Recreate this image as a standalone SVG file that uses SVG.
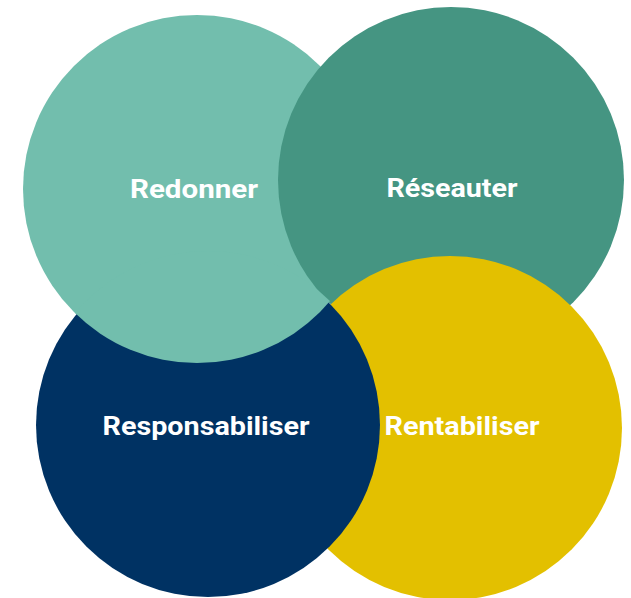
<svg xmlns="http://www.w3.org/2000/svg" width="631" height="598" viewBox="0 0 631 598">
  <style>
    .lbl { font-family: Roboto, "Liberation Sans", sans-serif; font-weight: 700; font-size: 26px; fill: #ffffff; text-anchor: middle; }
  </style>
  <defs>
    <clipPath id="navyClip">
      <circle cx="208" cy="425" r="174"/>
    </clipPath>
  </defs>
  <rect width="631" height="598" fill="#ffffff"/>
  <g id="node-redonner">
    <circle cx="197" cy="189" r="174" fill="#72BEAD"/>
  </g>
  <g id="node-reseauter">
    <circle cx="451" cy="180" r="173" fill="#459582"/>
  </g>
  <g id="node-rentabiliser">
    <circle cx="450" cy="428" r="172" fill="#E3C000"/>
  </g>
  <g id="node-responsabiliser">
    <circle cx="208" cy="425" r="172" fill="#003263"/>
  </g>
  <g id="node-redonner-overlap">
    <circle cx="197" cy="189" r="174" fill="#72BEAD" clip-path="url(#navyClip)"/>
  </g>
  <g id="connectors"></g>
  <g id="labels">
    <text class="lbl" x="194" y="198" textLength="128" lengthAdjust="spacingAndGlyphs">Redonner</text>
    <text class="lbl" x="452" y="197" textLength="131" lengthAdjust="spacingAndGlyphs">Réseauter</text>
    <text class="lbl" x="206" y="435" textLength="207" lengthAdjust="spacingAndGlyphs">Responsabiliser</text>
    <text class="lbl" x="462" y="435" textLength="155" lengthAdjust="spacingAndGlyphs">Rentabiliser</text>
  </g>
</svg>
